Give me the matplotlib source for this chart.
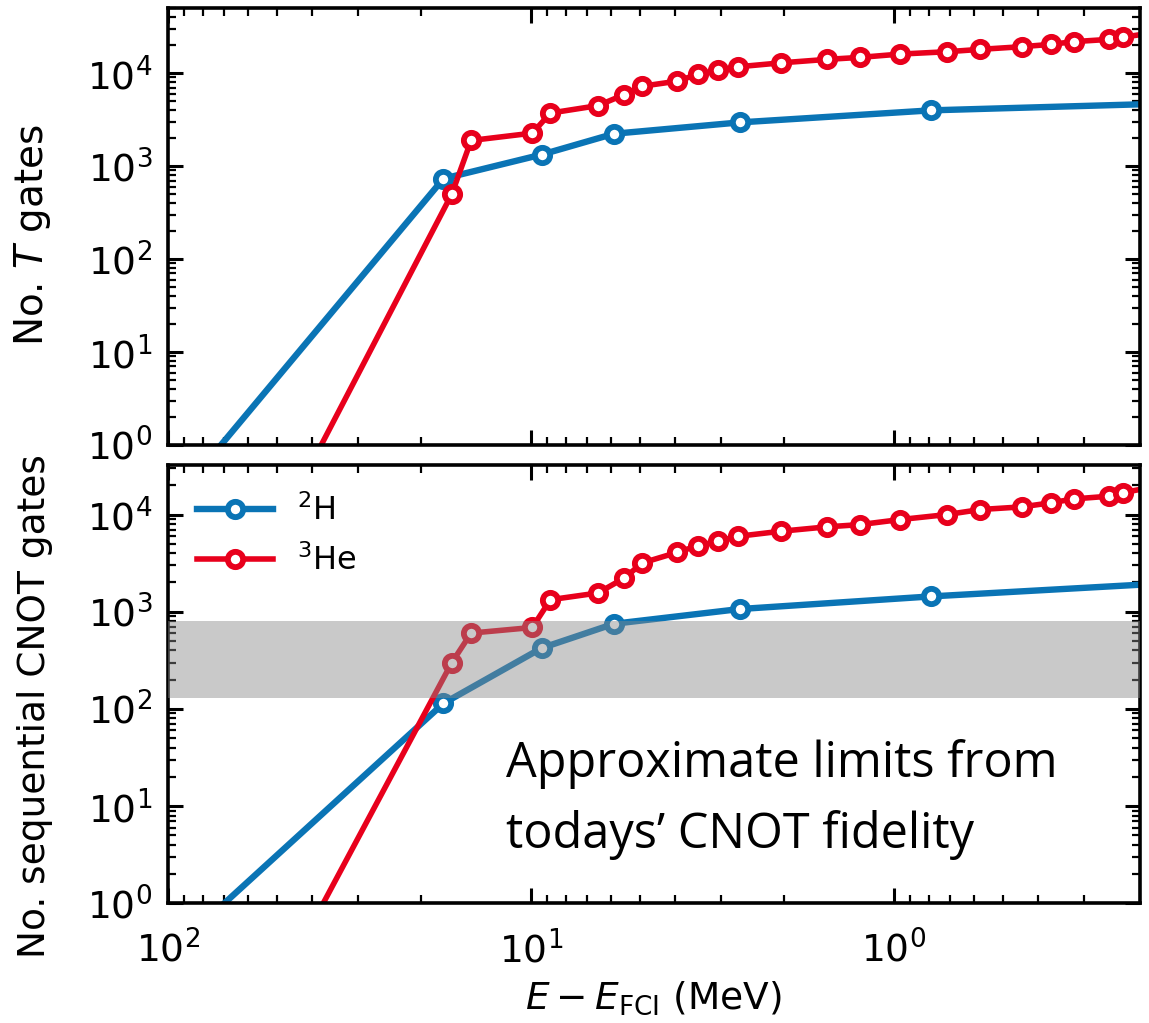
import matplotlib
matplotlib.use("Agg")
import matplotlib.pyplot as plt
import numpy as np

# shared energy differences (MeV)
x_h2 = [150, 17.4, 9.33, 5.9, 2.66, 0.79, 0.15]
x_he3 = [60, 16.5, 14.6, 9.9, 8.83, 6.53, 5.52, 4.93, 3.95, 3.46, 3.05, 2.69,
         2.05, 1.53, 1.24, 0.961, 0.714, 0.577, 0.443, 0.370, 0.318, 0.255, 0.234, 0.19]

# top panel: number of T gates
t_h2 = [0.031, 733, 1331, 2230, 2952, 3980, 4800]
t_he3 = [0.031, 501, 1888, 2264, 3722, 4475, 5890, 7240, 8200, 9750, 10730, 11700,
         12900, 14060, 14780, 16040, 17000, 18040, 19270, 20400, 21850, 23100, 24300, 27500]

# bottom panel: number of sequential CNOT gates
c_h2 = [0.074, 114, 423, 752, 1066, 1438, 2035]
c_he3 = [0.036, 300, 603, 689, 1330, 1560, 2225, 3180, 4080, 4790, 5300, 5970,
         6730, 7470, 7880, 8880, 10000, 11270, 12000, 13200, 14500, 15450, 16750, 19500]

band = [130, 800]
labels = ["$^2$H", "$^3$He"]
note_lines = ["Approximate limits from", "todays\u2019 CNOT fidelity"]
blue = "#0a74b5"
red = "#e8001c"

fig = plt.figure(figsize=(11.49, 10.23), dpi=100)
ax1 = fig.add_axes([0.146, 0.565, 0.846, 0.427])
ax2 = fig.add_axes([0.146, 0.117, 0.846, 0.428])

def style(ax):
    ax.set_xscale("log")
    ax.set_yscale("log")
    ax.set_xlim(100, 0.21)
    for s in ax.spines.values():
        s.set_linewidth(2.6)
    ax.tick_params(which="major", direction="in", length=11, width=2.2,
                   top=True, right=True, labelsize=27)
    ax.tick_params(axis="y", which="major", pad=11)
    ax.tick_params(axis="x", which="major", pad=20)
    ax.tick_params(which="minor", direction="in", length=6, width=1.6,
                   top=True, right=True)
    ax.yaxis.set_major_locator(matplotlib.ticker.LogLocator(base=10, numticks=10))
    ax.yaxis.set_minor_locator(matplotlib.ticker.LogLocator(base=10, subs=np.arange(2, 10), numticks=20))
    ax.yaxis.set_minor_formatter(matplotlib.ticker.NullFormatter())

mk = dict(marker="o", markersize=11, markerfacecolor="white", markeredgewidth=4.2)

for ax, yh, yhe in [(ax1, t_h2, t_he3), (ax2, c_h2, c_he3)]:
    style(ax)
    ax.plot(x_h2, yh, color=blue, lw=4.6, markeredgecolor=blue, label=labels[0], **mk)
    ax.plot(x_he3, yhe, color=red, lw=4.0, markeredgecolor=red, label=labels[1], **mk)

ax1.set_ylim(1, 5e4)
ax2.set_ylim(1, 3.2e4)
ax1.tick_params(labelbottom=False)

ax2.axhspan(band[0], band[1], color="#888888", alpha=0.45, lw=0, zorder=3)

ax1.set_ylabel("No. $T$ gates", fontsize=28)
ax2.set_ylabel("No. sequential CNOT gates", fontsize=27)
ax1.yaxis.set_label_coords(-0.118, 0.48)
ax2.yaxis.set_label_coords(-0.118, 0.45)
ax2.set_xlabel(r"$E - E_{\rm FCI}$ (MeV)", fontsize=27, labelpad=6)

ax2.legend(loc="upper left", frameon=False, fontsize=23, handlelength=2.4,
           borderaxespad=0.5, labelspacing=0.55, handletextpad=0.75)

ax2.text(0.348, 0.288, note_lines[0], transform=ax2.transAxes, fontsize=35,
         family=["Open Sans", "DejaVu Sans"], ha="left", va="baseline")
ax2.text(0.348, 0.126, note_lines[1], transform=ax2.transAxes, fontsize=35,
         family=["Open Sans", "DejaVu Sans"], ha="left", va="baseline")

fig.savefig("out.png", dpi=100)
